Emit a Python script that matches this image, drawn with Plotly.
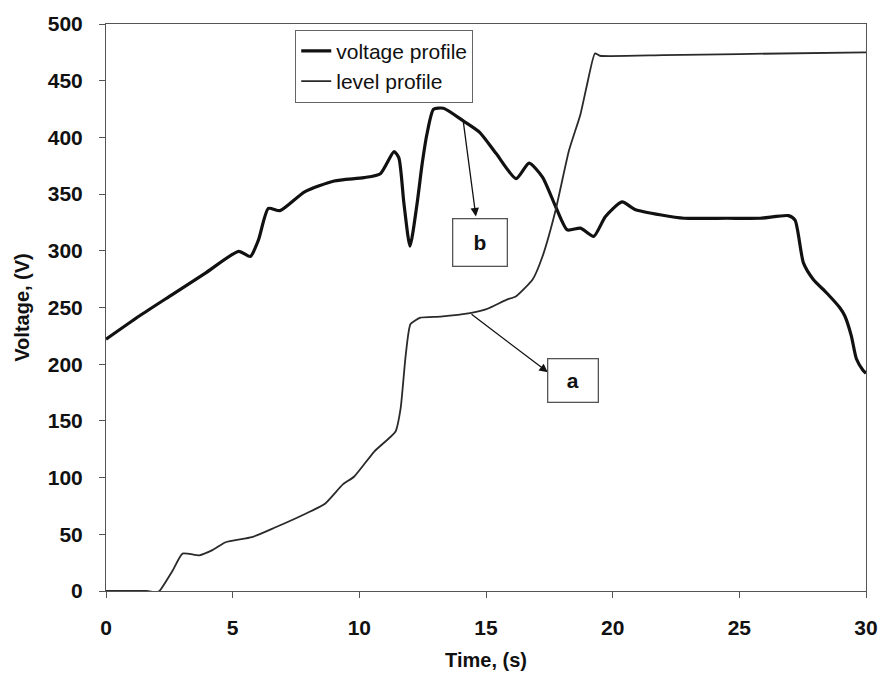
import plotly.graph_objects as go

# Voltage profile (thick curve), time in seconds, volts
time_voltage = [0, 1.33, 2.63, 3.94, 5.24, 5.7, 6.02, 6.41, 6.87, 7.84, 9.01, 10.18, 10.83,
                11.37, 11.56, 11.76, 12.0, 12.28, 12.48, 12.67, 12.93, 13.32, 14.1, 14.75,
                15.41, 16.19, 16.7, 17.23, 17.75, 18.21, 18.73, 19.25, 19.71, 20.37, 20.88,
                21.92, 22.82, 24.52, 25.82, 26.94, 27.2, 27.53, 27.92, 28.44, 28.96, 29.16,
                29.42, 29.62, 29.88, 30.0]
voltage = [222, 242.7, 261.6, 280.6, 299.5, 295, 309.7, 337.4, 335.4, 352, 361.6, 364.5, 368,
           387.5, 382, 341.8, 304, 341.8, 376.7, 403, 424.8, 425.7, 414.6, 404.5,
           385.5, 363.6, 377.3, 365, 338.9, 318.4, 320, 312.7, 330, 343.1, 336.5,
           331.6, 328.7, 328.7, 328.7, 331, 327, 289.3, 274.7, 263, 250, 242.7,
           225, 204.8, 194.7, 192]

# Level profile (thin curve)
time_level = [0, 1.6, 1.99, 2.11, 2.63, 3.02, 3.68, 4.2, 4.72, 5.76, 6.67, 7.71, 8.63, 9.35,
              9.8, 10.59, 11.43, 11.63, 11.83, 12.02, 12.41, 13.2, 14.37, 15.02, 15.8, 16.19,
              16.84, 17.23, 17.75, 18.27, 18.73, 18.99, 19.3, 19.5, 22, 25, 30]
level = [0, 0, -1, 0, 18, 33, 31.5, 36, 43, 47.5, 56, 66.4, 76.7, 94,
         101, 123, 140.7, 161, 207.8, 235.4, 241, 242, 245, 248.5, 256.7, 260,
         274.7, 295, 336, 388, 420.5, 446.7, 474, 472, 472.5, 473.5, 475]

x_ticks = [0, 5, 10, 15, 20, 25, 30]
y_ticks = [0, 50, 100, 150, 200, 250, 300, 350, 400, 450, 500]

FONT = "Liberation Sans, Arial, sans-serif"

fig = go.Figure()
fig.add_trace(go.Scatter(
    x=time_voltage, y=voltage, mode="lines", name="voltage profile",
    line=dict(color="#111111", width=3.2, shape="spline", smoothing=0.6),
))
fig.add_trace(go.Scatter(
    x=time_level, y=level, mode="lines", name="level profile",
    line=dict(color="#2a2a2a", width=1.8, shape="spline", smoothing=0.5),
))

# Callout labels with arrows pointing at the curves
callouts = [
    # label, box centre (t, V), box size px, arrow head (t, V), arrow tail (t, V)
    ("b", (14.76, 307.2), (53, 46), (14.6, 330.3), (14.1, 414.6)),
    ("a", (18.43, 185.5), (49, 42), (17.44, 193.0), (14.37, 245.0)),
]
for label, (bx, by), (bw, bh), (hx, hy), (tx, ty) in callouts:
    fig.add_annotation(
        x=hx, y=hy, ax=tx, ay=ty, xref="x", yref="y", axref="x", ayref="y",
        text="", showarrow=True, arrowhead=2, arrowsize=1.3, arrowwidth=1.3,
        arrowcolor="#111111", standoff=0,
    )
    fig.add_annotation(
        x=bx, y=by, xref="x", yref="y", text=f"<b>{label}</b>", showarrow=False,
        width=bw, height=bh, borderpad=0, bordercolor="#555555", borderwidth=1.3,
        bgcolor="white", font=dict(family=FONT, size=21, color="#111111"),
    )

fig.update_layout(
    width=890, height=680,
    margin=dict(l=106, r=17, t=19, b=89),
    paper_bgcolor="white", plot_bgcolor="white",
    font=dict(family=FONT, color="#111111"),
    showlegend=True,
    legend=dict(
        x=0.249, y=0.99, xanchor="left", yanchor="top",
        bgcolor="white", bordercolor="#666666", borderwidth=1,
        font=dict(family=FONT, size=21, color="#111111"),
        tracegroupgap=0, itemwidth=30, entrywidth=160, entrywidthmode="pixels",
    ),
    xaxis=dict(
        range=[0, 30], tickvals=x_ticks, ticktext=[str(v) for v in x_ticks],
        showgrid=False, zeroline=False,
        showline=True, linecolor="#555555", linewidth=1, mirror=True,
        ticks="outside", ticklen=6, tickcolor="#555555", ticklabelstandoff=12,
        tickfont=dict(family=FONT, size=21, color="#111111", weight="bold"),
        title=dict(text="<b>Time, (s)</b>", standoff=14,
                   font=dict(family=FONT, size=20, color="#111111")),
    ),
    yaxis=dict(
        range=[0, 500], tickvals=y_ticks, ticktext=[str(v) for v in y_ticks],
        showgrid=False, zeroline=False,
        showline=True, linecolor="#555555", linewidth=1, mirror=True,
        ticks="outside", ticklen=6, tickcolor="#555555", ticklabelstandoff=12,
        tickfont=dict(family=FONT, size=21, color="#111111", weight="bold"),
        title=dict(text="<b>Voltage, (V)</b>", standoff=12,
                   font=dict(family=FONT, size=20, color="#111111")),
    ),
)

fig.write_html("out.html")
